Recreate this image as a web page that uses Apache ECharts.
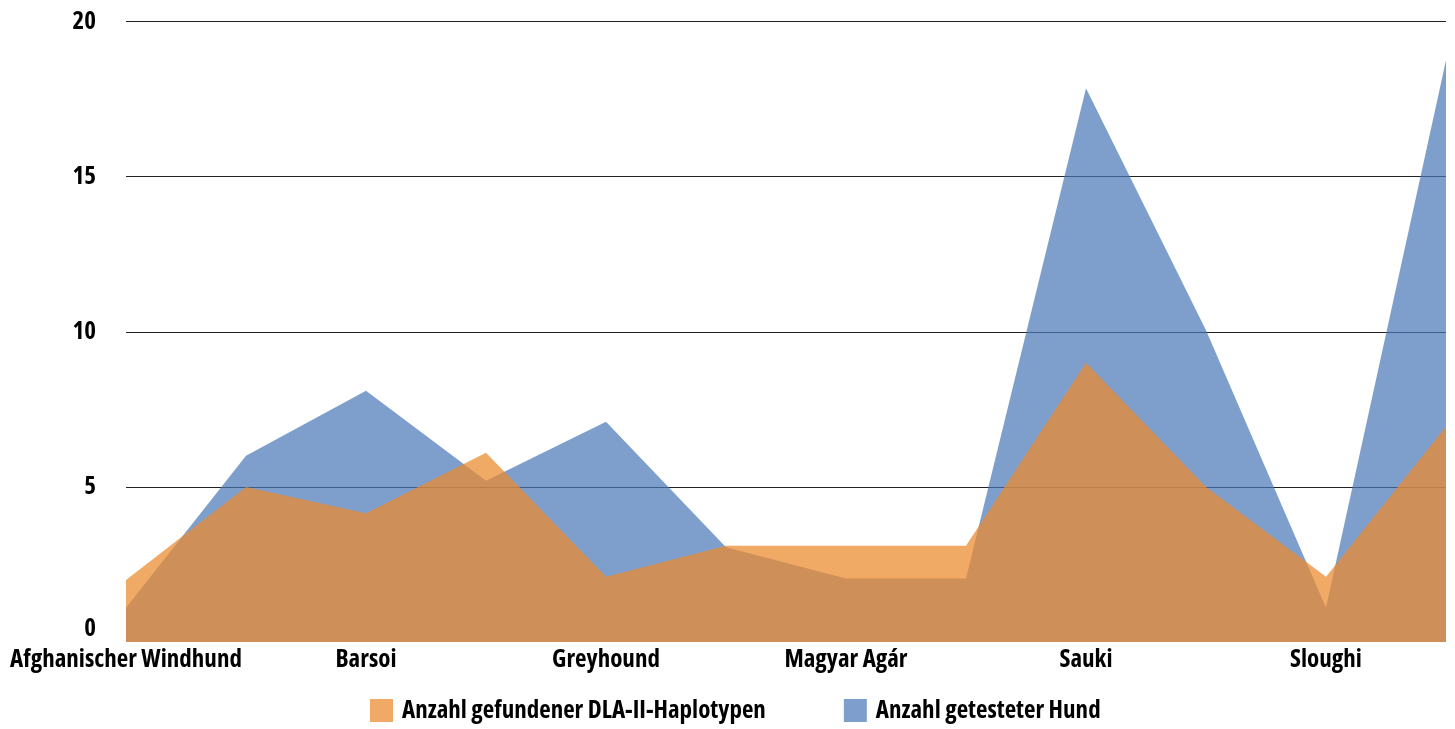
<!DOCTYPE html>
<html>
<head>
<meta charset="utf-8">
<script src="https://cdn.jsdelivr.net/npm/echarts@6/dist/echarts.min.js"></script>
<style>
html,body{margin:0;padding:0;background:#fff;}
#chart{width:1455px;height:729px;}
</style>
</head>
<body>
<div id="chart"></div>
<script>
const categories = ['Afghanischer Windhund', '', 'Barsoi', '', 'Greyhound', '', 'Magyar Agár', '', 'Sauki', '', 'Sloughi', ''];
const haplotypen = [2, 5, 4.15, 6.1, 2.1, 3.1, 3.1, 3.1, 9.0, 5.0, 2.1, 6.95];
const getesteteHunde = [1.1, 6, 8.1, 5.2, 7.1, 3.05, 2.05, 2.05, 17.85, 10.05, 1.1, 18.75];
const yTicks = [0, 5, 10, 15, 20];
const seriesNames = ['Anzahl gefundener DLA-II-Haplotypen', 'Anzahl getesteter Hund'];

const FONT = '"Open Sans", "DejaVu Sans Condensed", sans-serif';
const WEIGHT = 'bold condensed';
const FS = 25;
const chart = echarts.init(document.getElementById('chart'), null, {renderer: 'canvas'});
chart.setOption({
  animation: false,
  backgroundColor: '#ffffff',
  grid: {left: 126, right: 9, top: 21.5, bottom: 87, containLabel: false, outerBoundsMode: 'none'},
  legend: {
    data: [seriesNames[0], seriesNames[1]],
    left: 365, bottom: 1,
    itemWidth: 23, itemHeight: 23, itemGap: 78,
    icon: 'rect',
    textStyle: {fontFamily: FONT, fontWeight: WEIGHT, fontSize: FS, color: '#000', padding: [0, 0, 0, 4]}
  },
  xAxis: {
    type: 'category',
    boundaryGap: false,
    data: categories,
    axisLine: {show: false},
    axisTick: {show: false},
    splitLine: {show: false},
    axisLabel: {
      interval: 0, margin: 5,
      fontFamily: FONT, fontWeight: WEIGHT, fontSize: FS, color: '#000'
    }
  },
  yAxis: {
    type: 'value',
    min: yTicks[0], max: yTicks[yTicks.length - 1], interval: 5,
    axisLine: {show: false},
    axisTick: {show: false},
    splitLine: {show: true, showMinLine: false, lineStyle: {color: '#222', width: 1}},
    axisLabel: {
      margin: 30,
      fontFamily: FONT, fontWeight: WEIGHT, fontSize: FS, color: '#000',
      formatter: v => v === 0 ? '{z|0}' : String(v),
      rich: {z: {fontFamily: FONT, fontWeight: WEIGHT, fontSize: FS, color: '#000', padding: [0, 0, 26, 0]}}
    }
  },
  series: [
    {
      name: seriesNames[1], type: 'line', data: getesteteHunde,
      symbol: 'none', lineStyle: {width: 0},
      color: 'rgba(71,118,182,0.7)',
      itemStyle: {color: 'rgba(71,118,182,0.7)'},
      areaStyle: {color: 'rgba(71,118,182,0.7)', opacity: 1},
      z: 2
    },
    {
      name: seriesNames[0], type: 'line', data: haplotypen,
      symbol: 'none', lineStyle: {width: 0},
      color: 'rgba(236,137,45,0.73)',
      itemStyle: {color: 'rgba(236,137,45,0.73)'},
      areaStyle: {color: 'rgba(236,137,45,0.73)', opacity: 1},
      z: 3
    }
  ]
});
</script>
</body>
</html>
